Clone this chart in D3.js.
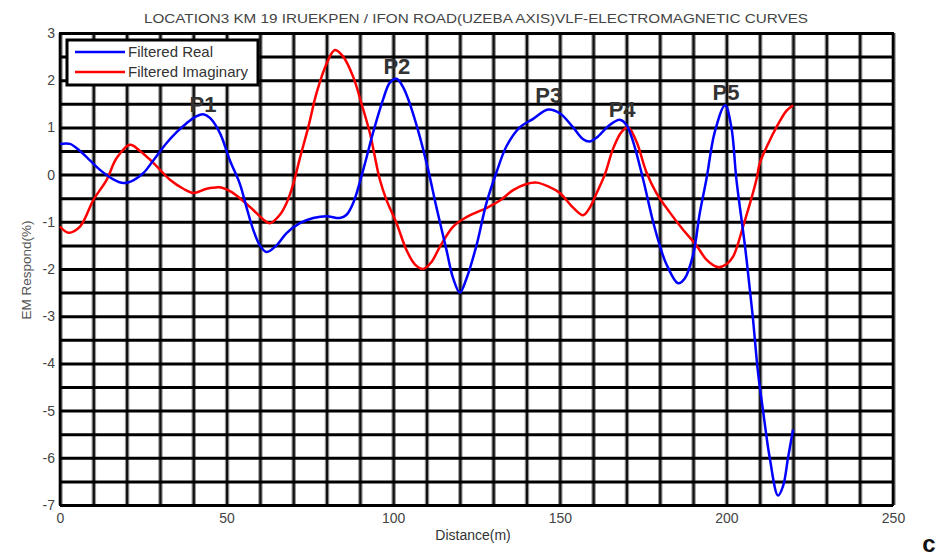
<!DOCTYPE html>
<html>
<head>
<meta charset="utf-8">
<script src="https://cdn.jsdelivr.net/npm/d3@7"></script>
<style>
  body { margin: 0; background: #fff; }
  text { font-family: "Liberation Sans", Arial, sans-serif; }
</style>
</head>
<body>
<div class="visHolder"></div>
<script>

// Filtered Real (blue)
let realDistance = [0, 3, 6, 9, 12, 16, 19, 22, 25, 28, 32, 35, 38, 41, 43, 45, 48, 51, 54, 56, 58, 60, 62, 65, 68, 72, 76, 80, 84, 86, 88, 91, 94, 97, 99, 101, 103, 105, 108, 110.5, 113, 116, 118, 120, 122, 125, 128, 131, 134, 138, 142, 146.5, 150, 154, 157, 159, 161, 165, 168, 170, 172, 175, 178, 180, 182, 185.5, 187.5, 190, 192, 194, 196.5, 199.6, 201.5, 203, 205.6, 207.8, 209.5, 211, 213, 215.5, 217, 218.5, 220];
let realValue    = [0.65, 0.65, 0.5, 0.3, 0.1, -0.1, -0.18, -0.12, 0.03, 0.3, 0.67, 0.9, 1.09, 1.24, 1.28, 1.2, 0.88, 0.3, -0.2, -0.7, -1.17, -1.5, -1.64, -1.5, -1.24, -1.03, -0.92, -0.88, -0.92, -0.85, -0.6, 0.1, 0.9, 1.6, 1.95, 2.03, 1.85, 1.5, 0.8, 0.1, -0.7, -1.6, -2.2, -2.5, -2.2, -1.5, -0.6, 0.05, 0.6, 1.0, 1.18, 1.38, 1.3, 1.0, 0.75, 0.7, 0.78, 1.05, 1.16, 1.05, 0.7, -0.1, -1.0, -1.5, -1.9, -2.3, -2.2, -1.7, -0.82, -0.1, 0.9, 1.47, 1.0, -0.1, -1.53, -2.93, -4.2, -5.0, -6.0, -6.8, -6.6, -6.0, -5.4];

// Filtered Imaginary (red)
let imagDistance = [0, 2.5, 6, 10, 14, 17, 21, 24, 28, 33, 37, 40, 44, 48, 51, 54, 58, 61, 63, 66, 68, 70, 72, 74.5, 77, 80, 82.5, 85, 88, 90.5, 93, 96, 98, 101, 104, 106.5, 109, 111.5, 114, 118, 122, 125, 128, 132, 136, 140, 143, 146.5, 150, 154, 157, 159, 161, 163.5, 166, 168.5, 170.5, 173, 176, 179, 183, 187, 191, 194, 197.5, 200, 202, 205, 209, 210, 212.5, 215, 218, 220];
let imagValue    = [-1.1, -1.23, -1.1, -0.54, -0.11, 0.35, 0.63, 0.5, 0.25, -0.11, -0.3, -0.39, -0.3, -0.27, -0.35, -0.5, -0.75, -0.95, -1.03, -0.85, -0.6, -0.2, 0.35, 1.0, 1.73, 2.35, 2.64, 2.5, 2.07, 1.5, 0.88, -0.11, -0.54, -1.03, -1.6, -1.9, -2.0, -1.85, -1.53, -1.1, -0.9, -0.8, -0.71, -0.55, -0.33, -0.2, -0.17, -0.25, -0.39, -0.7, -0.86, -0.7, -0.4, 0.0, 0.55, 0.9, 1.0, 0.7, 0.05, -0.39, -0.8, -1.17, -1.5, -1.8, -1.96, -1.9, -1.74, -1.1, -0.11, 0.24, 0.65, 1.0, 1.35, 1.47];

// peak annotations
let peakLabels = ['P1', 'P2', 'P3', 'P4', 'P5'];
let peakX      = [42.9, 101.1, 146.7, 168.7, 199.9];
let peakY      = [1.33, 2.13, 1.52, 1.22, 1.58];

let xTicks = [0, 50, 100, 150, 200, 250];
let yTicks = [3, 2, 1, 0, -1, -2, -3, -4, -5, -6, -7];

let width = 943;
let height = 556;
let plotLeft = 60, plotRight = 893, plotTop = 33, plotBottom = 505;

let svg = d3.select('.visHolder').append('svg');

let xScale, yScale;

function drawCanvas() {
  svg.attr('width', width)
     .attr('height', height);
  svg.append('rect')
     .attr('x', plotLeft).attr('y', plotTop)
     .attr('width', plotRight - plotLeft).attr('height', plotBottom - plotTop)
     .attr('fill', '#fff');
}

function generateScales() {
  xScale = d3.scaleLinear()
             .domain([0, 250])
             .range([plotLeft, plotRight]);

  yScale = d3.scaleLinear()
             .domain([-7, 3])
             .range([plotBottom, plotTop]);
}

function generateGrid() {
  // vertical grid, every 10 m (soft edge under a dark core)
  let vGrid = d3.axisBottom(xScale)
                .tickValues(d3.range(0, 251, 10))
                .tickSize(-(plotBottom - plotTop))
                .tickFormat('');
  svg.append('g')
     .attr('transform', 'translate(0,' + plotBottom + ')')
     .call(vGrid)
     .call(g => g.select('.domain').remove())
     .call(g => g.selectAll('line').attr('stroke', '#999').attr('stroke-width', 4.5));
  svg.append('g')
     .attr('transform', 'translate(0,' + plotBottom + ')')
     .call(vGrid)
     .call(g => g.select('.domain').remove())
     .call(g => g.selectAll('line').attr('stroke', '#111').attr('stroke-width', 2.2));

  // horizontal grid, every 0.5 %
  let hGrid = d3.axisLeft(yScale)
                .tickValues(d3.range(-7, 3.01, 0.5))
                .tickSize(-(plotRight - plotLeft))
                .tickFormat('');
  svg.append('g')
     .attr('transform', 'translate(' + plotLeft + ',0)')
     .call(hGrid)
     .call(g => g.select('.domain').remove())
     .call(g => g.selectAll('line').attr('stroke', '#000').attr('stroke-width', 3));

  svg.append('rect')
     .attr('x', plotLeft).attr('y', plotTop)
     .attr('width', plotRight - plotLeft).attr('height', plotBottom - plotTop)
     .attr('fill', 'none')
     .attr('stroke', '#000')
     .attr('stroke-width', 2);
}

function generateAxes() {
  let xAxis = d3.axisBottom(xScale)
                .tickValues(xTicks)
                .tickSize(0)
                .tickPadding(8);
  svg.append('g')
     .attr('transform', 'translate(0,' + plotBottom + ')')
     .call(xAxis)
     .call(g => g.select('.domain').remove())
     .selectAll('text')
     .attr('font-size', 14)
     .attr('fill', '#444');

  let yAxis = d3.axisLeft(yScale)
                .tickValues(yTicks)
                .tickSize(0)
                .tickPadding(5)
                .tickFormat(d => String(d));
  svg.append('g')
     .attr('transform', 'translate(' + plotLeft + ',0)')
     .call(yAxis)
     .call(g => g.select('.domain').remove())
     .selectAll('text')
     .attr('font-size', 14)
     .attr('fill', '#444');

  svg.append('text')
     .attr('x', 476).attr('y', 23)
     .attr('text-anchor', 'middle')
     .attr('font-size', 13.5)
     .attr('textLength', 664)
     .attr('lengthAdjust', 'spacingAndGlyphs')
     .attr('fill', '#444')
     .text('LOCATION3 KM 19 IRUEKPEN / IFON ROAD(UZEBA AXIS)VLF-ELECTROMAGNETIC CURVES');

  svg.append('text')
     .attr('x', 473).attr('y', 540)
     .attr('text-anchor', 'middle')
     .attr('font-size', 14)
     .attr('fill', '#333')
     .text('Distance(m)');

  svg.append('text')
     .attr('transform', 'translate(31,270) rotate(-90)')
     .attr('text-anchor', 'middle')
     .attr('font-size', 13.5)
     .attr('fill', '#555')
     .text('EM Respond(%)');

  svg.append('text')
     .attr('x', 929).attr('y', 552)
     .attr('text-anchor', 'middle')
     .attr('font-size', 24)
     .attr('font-weight', 'bold')
     .attr('fill', '#111')
     .text('c');
}

function drawLines() {
  let line = d3.line()
               .x(d => xScale(d[0]))
               .y(d => yScale(d[1]))
               .curve(d3.curveCatmullRom);

  svg.append('path')
     .datum(imagDistance.map((d, i) => [d, imagValue[i]]))
     .attr('d', line)
     .attr('fill', 'none')
     .attr('stroke', '#ff0000')
     .attr('stroke-width', 2.5);

  svg.append('path')
     .datum(realDistance.map((d, i) => [d, realValue[i]]))
     .attr('d', line)
     .attr('fill', 'none')
     .attr('stroke', '#0000ff')
     .attr('stroke-width', 2.5);

  svg.selectAll('.peak')
     .data(peakLabels)
     .enter()
     .append('text')
     .attr('class', 'peak')
     .attr('x', (d, i) => xScale(peakX[i]))
     .attr('y', (d, i) => yScale(peakY[i]))
     .attr('text-anchor', 'middle')
     .attr('font-size', 22)
     .attr('font-weight', 'bold')
     .attr('fill', '#333')
     .text(d => d);
}

function drawLegend() {
  let lg = svg.append('g');
  lg.append('rect')
    .attr('x', 67).attr('y', 40)
    .attr('width', 191).attr('height', 45)
    .attr('fill', '#fff')
    .attr('stroke', '#000')
    .attr('stroke-width', 3);

  let names = ['Filtered Real', 'Filtered Imaginary'];
  let colors = ['#0000ff', '#ff0000'];
  names.forEach((n, i) => {
    lg.append('line')
      .attr('x1', 75).attr('x2', 125)
      .attr('y1', 52 + i * 20).attr('y2', 52 + i * 20)
      .attr('stroke', colors[i])
      .attr('stroke-width', 2.5);
    lg.append('text')
      .attr('x', 128).attr('y', 57 + i * 20)
      .attr('font-size', 15)
      .attr('fill', '#333')
      .text(n);
  });
}

drawCanvas();
generateScales();
generateGrid();
generateAxes();
drawLines();
drawLegend();

</script>
</body>
</html>
